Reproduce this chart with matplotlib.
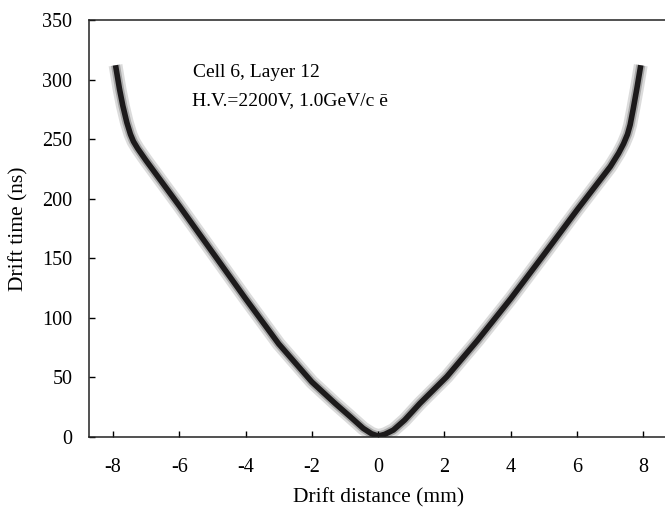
import matplotlib
matplotlib.use("Agg")
import matplotlib.pyplot as plt

# Calibration curve (drift distance mm -> drift time ns)
curve_x = [-7.92, -7.80, -7.70, -7.58, -7.47, -7.38, -7.25, -7.0, -6.0, -5.0, -4.0,
           -3.0, -2.0, -1.30, -0.85, -0.45, -0.20, 0.0, 0.20, 0.46, 0.80,
           1.26, 2.07, 3.0, 4.0, 5.0, 6.0, 7.0, 7.25, 7.40, 7.52,
           7.60, 7.69, 7.80, 7.92]
curve_y = [312, 292, 278, 264, 254, 248, 242, 232, 194, 155, 116,
           78, 46, 28, 17, 7, 2.5, 0.5, 2.0, 5.6, 14,
           28, 50.4, 81, 116, 153, 190.5, 226.8, 238, 246, 254,
           262, 275, 292, 312]

x_ticks = [-8, -6, -4, -2, 0, 2, 4, 6, 8]
y_ticks = [0, 50, 100, 150, 200, 250, 300, 350]
x_label = "Drift distance (mm)"
y_label = "Drift time (ns)"
note_lines = ["Cell 6, Layer 12", "H.V.=2200V, 1.0GeV/c \u0113"]

plt.rcParams['font.family'] = ['Liberation Serif', 'DejaVu Serif']

fig = plt.figure(figsize=(6.65, 5.09), dpi=100)
ax = fig.add_axes([89 / 665, 1 - 436.7 / 509, (667.3 - 89) / 665, (436.7 - 20) / 509])

# scatter cloud represented as a soft grey band around the curve
ax.plot(curve_x, curve_y, color='#9a9a9a', lw=10, alpha=0.35, solid_capstyle='butt',
        solid_joinstyle='round', zorder=1)
ax.plot(curve_x, curve_y, color='#6a6a6a', lw=6.5, alpha=0.45, solid_capstyle='butt',
        solid_joinstyle='round', zorder=1.5)
ax.plot(curve_x, curve_y, color='#1c1a1b', lw=4.0, solid_capstyle='butt',
        solid_joinstyle='round', zorder=2)

ax.set_xlim(-8.72, 8.72)
ax.set_ylim(0, 350)
ax.set_xticks(x_ticks)
ax.set_xticklabels([str(v) for v in x_ticks])
ax.set_yticks(y_ticks)
ax.tick_params(direction='in', length=4, width=1, labelsize=14.5, top=False, right=False)
ax.tick_params(axis='x', pad=15.5)
ax.tick_params(axis='y', pad=12)
for s in ['left', 'bottom', 'top']:
    ax.spines[s].set_linewidth(1.1)
    ax.spines[s].set_color('#222222')
ax.spines['right'].set_visible(False)

ax.set_xlabel(x_label, fontsize=15.5, labelpad=8)
ax.set_ylabel(y_label, fontsize=15.5, labelpad=10)

ax.text(-5.57, 302, note_lines[0], fontsize=14, ha='left', va='baseline')
ax.text(-5.60, 278.5, note_lines[1], fontsize=14, ha='left', va='baseline')

fig.savefig("out.png", dpi=100)
